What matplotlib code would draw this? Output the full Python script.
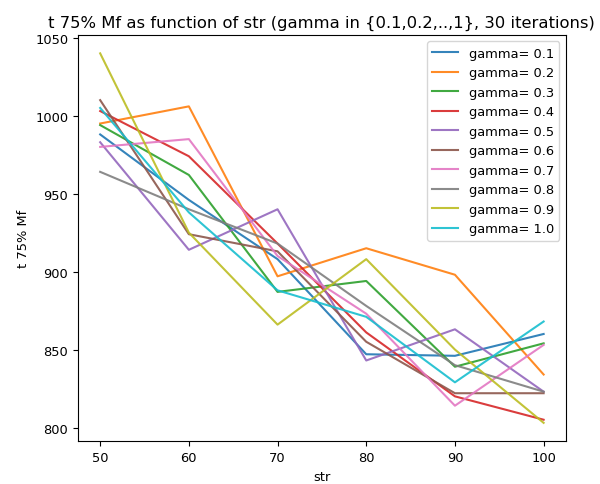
import matplotlib
matplotlib.use("Agg")
import matplotlib.pyplot as plt

strs = [50, 60, 70, 80, 90, 100]
gammas = ["0.1", "0.2", "0.3", "0.4", "0.5", "0.6", "0.7", "0.8", "0.9", "1.0"]

g01 = [988, 946, 908, 847, 846, 860]
g02 = [995, 1006, 897, 915, 898, 834]
g03 = [994, 962, 887, 894, 839, 854]
g04 = [1003, 974, 918, 861, 820, 805]
g05 = [983, 914, 940, 843, 863, 823]
g06 = [1010, 924, 913, 855, 822, 822]
g07 = [980, 985, 910, 873, 814, 853]
g08 = [964, 940, 918, 878, 840, 823]
g09 = [1040, 925, 866, 908, 850, 803]
g10 = [1005, 938, 888, 871, 829, 868]

series = [g01, g02, g03, g04, g05, g06, g07, g08, g09, g10]


def plot():
    plt.rcParams["font.size"] = 9.4
    fig = plt.figure(figsize=(6.0, 4.85), dpi=100)
    ax = fig.add_axes([0.13, 0.088, 0.813, 0.838])
    for g, ys in zip(gammas, series):
        ax.plot(strs, ys, label="gamma= " + g, alpha=0.9)
    ax.set_title("t 75% Mf as function of str (gamma in {0.1,0.2,..,1}, 30 iterations)",
                 fontsize=11.8)
    ax.set_xlabel("str")
    ax.set_ylabel("t 75% Mf")
    ax.legend(loc="upper right")
    fig.savefig("out.png")


if __name__ == "__main__":
    plot()
